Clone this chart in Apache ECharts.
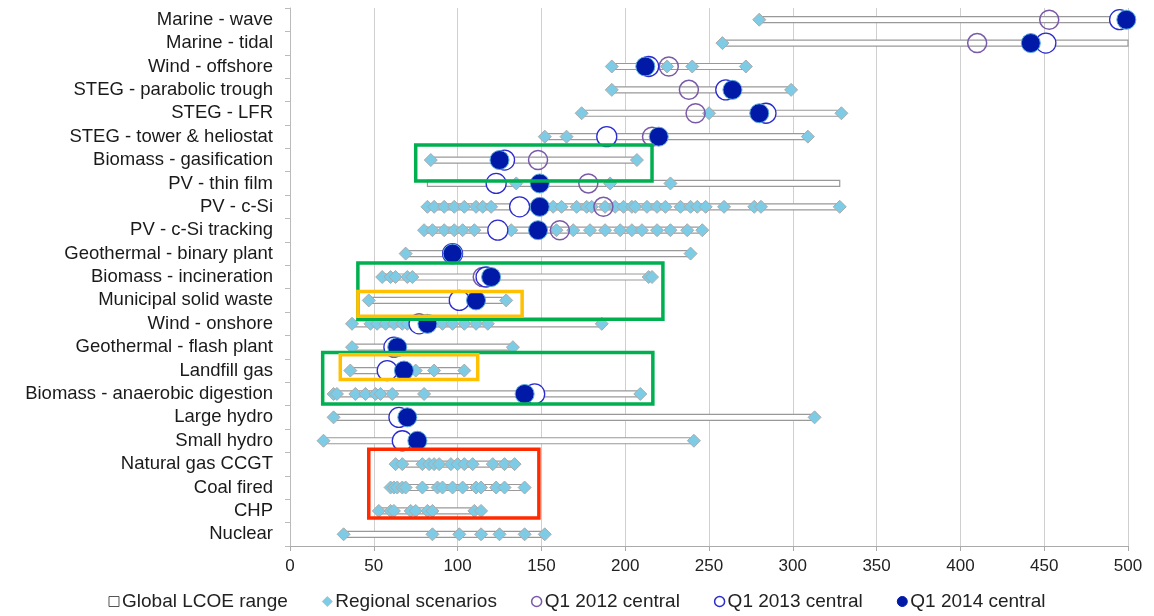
<!DOCTYPE html>
<html>
<head>
<meta charset="utf-8">
<script src="https://cdn.jsdelivr.net/npm/echarts@6/dist/echarts.min.js"></script>
<style>
  html, body { margin: 0; padding: 0; background: #fff; }
  #main { width: 1154px; height: 616px; }
</style>
</head>
<body>
<div id="main"></div>
<script>
var categories = ["Marine - wave", "Marine - tidal", "Wind - offshore", "STEG - parabolic trough", "STEG - LFR",
  "STEG - tower & heliostat", "Biomass - gasification", "PV - thin film", "PV - c-Si", "PV - c-Si tracking",
  "Geothermal - binary plant", "Biomass - incineration", "Municipal solid waste", "Wind - onshore",
  "Geothermal - flash plant", "Landfill gas", "Biomass - anaerobic digestion", "Large hydro", "Small hydro",
  "Natural gas CCGT", "Coal fired", "CHP", "Nuclear"];

// global LCOE range, min / max
var rangeMin = [280, 258, 192, 192, 174, 152, 84, 82, 82, 80, 69, 55, 47, 37, 37, 36, 26, 26, 20, 63, 60, 53, 32];
var rangeMax = [500, 500, 272, 299, 329, 309, 207, 328, 328, 246, 239, 216, 129, 186, 133, 104, 209, 313, 241, 134, 140, 114, 152];

// regional scenarios
var regional = [
  [280],
  [258],
  [192, 225, 240, 272],
  [192, 259, 299],
  [174, 250, 329],
  [152, 165, 309],
  [84, 207],
  [135, 191, 227],
  [82, 86, 92, 98, 104, 111, 115, 120, 157, 162, 171, 177, 180, 188, 194, 199, 204, 206, 213, 219, 224, 233, 239, 243, 248, 259, 277, 281, 328],
  [80, 85, 92, 98, 103, 110, 132, 159, 169, 179, 188, 197, 204, 210, 219, 227, 237, 246],
  [69, 239],
  [55, 60, 63, 70, 73, 214, 216],
  [47, 129],
  [37, 48, 52, 57, 62, 67, 70, 91, 97, 104, 111, 118, 186],
  [37, 133],
  [36, 75, 86, 104],
  [26, 28, 39, 45, 51, 54, 61, 80, 209],
  [26, 313],
  [20, 241],
  [63, 67, 79, 83, 86, 89, 96, 100, 104, 109, 121, 128, 134],
  [60, 62, 64, 67, 69, 79, 88, 91, 97, 103, 111, 114, 123, 128, 140],
  [53, 60, 62, 72, 75, 82, 85, 110, 114],
  [32, 85, 101, 114, 125, 140, 152]
];

var q2012 = [453, 410, 226, 238, 242, 216, 148, 178, 187, 161, null, 115, null, null, null, null, null, null, null, null, null, null, null];
var q2013 = [495, 451, 214, 260, 284, 189, 128, 123, 137, 124, 97, 117, 101, 77, 62, 58, 146, 65, 67, null, null, null, null];
var q2014 = [499, 442, 212, 264, 280, 220, 125, 149, 149, 148, 97, 120, 111, 82, 64, 68, 140, 70, 76, null, null, null, null];

// highlight boxes: x from, x to, first row, last row, top / bottom offset in rows
var boxes = [
  { value: [75, 216, 6, 6, -0.64, 0.9], color: '#00b050' },
  { value: [40.5, 222.5, 11, 12, -0.6, 0.81], color: '#00b050' },
  { value: [40.5, 138.5, 12, 12, -0.38, 0.68], color: '#ffc000' },
  { value: [19.5, 216.5, 15, 16, -0.77, 0.43], color: '#00b050' },
  { value: [30, 112, 15, 15, -0.68, 0.38], color: '#ffc000' },
  { value: [47, 148.5, 19, 21, -0.64, 0.3], color: '#ff2a00' }
];

var rangeData = [], regData = [], d12 = [], d13 = [], d14 = [];
for (var i = 0; i < categories.length; i++) {
  rangeData.push([i, rangeMin[i], rangeMax[i]]);
  for (var j = 0; j < regional[i].length; j++) regData.push([regional[i][j], i]);
  if (q2012[i] != null) d12.push([q2012[i], i]);
  if (q2013[i] != null) d13.push([q2013[i], i]);
  if (q2014[i] != null) d14.push([q2014[i], i]);
}

var myChart = echarts.init(document.getElementById('main'));
var option = {
  animation: false,
  grid: { left: 290, right: 26, top: 8, bottom: 70 },
  legend: {
    bottom: 0,
    left: 'center',
    itemWidth: 10,
    itemHeight: 10,
    itemGap: 34,
    textStyle: { fontFamily: 'Liberation Sans', fontSize: 19, color: '#222', padding: [0, 0, 0, -2] },
    data: [
      { name: 'Global LCOE range', icon: 'rect', itemStyle: { color: '#fff', borderColor: '#555', borderWidth: 1 } },
      { name: 'Regional scenarios', icon: 'diamond', itemStyle: { color: '#7ecbe6', borderColor: '#9cc', borderWidth: 1 } },
      { name: 'Q1 2012 central', icon: 'circle', itemStyle: { color: '#fff', borderColor: '#7a5aa8', borderWidth: 1.5 } },
      { name: 'Q1 2013 central', icon: 'circle', itemStyle: { color: '#fff', borderColor: '#2a2ad0', borderWidth: 1.5 } },
      { name: 'Q1 2014 central', icon: 'circle', itemStyle: { color: '#0019a6', borderColor: '#0019a6', borderWidth: 1 } }
    ]
  },
  xAxis: {
    type: 'value',
    min: 0,
    max: 500,
    interval: 50,
    axisLine: { show: true, lineStyle: { color: '#aaa' } },
    axisTick: { show: true, length: 5, lineStyle: { color: '#aaa' } },
    axisLabel: { fontFamily: 'Liberation Sans', fontSize: 17, color: '#222', margin: 12 },
    splitLine: { show: true, lineStyle: { color: '#cfcfcf' } }
  },
  yAxis: {
    type: 'category',
    inverse: true,
    data: categories,
    axisLine: { show: true, lineStyle: { color: '#bbb' } },
    axisTick: { show: true, length: 5, lineStyle: { color: '#bbb' } },
    axisLabel: { interval: 0, fontFamily: 'Liberation Sans', fontSize: 18.5, color: '#1a1a1a', margin: 17 },
    splitLine: { show: false }
  },
  series: [
    {
      name: 'Global LCOE range',
      type: 'custom',
      z: 1,
      encode: { x: [1, 2], y: 0 },
      renderItem: function (params, api) {
        var p0 = api.coord([api.value(1), api.value(0)]);
        var p1 = api.coord([api.value(2), api.value(0)]);
        return {
          type: 'rect',
          shape: { x: p0[0], y: p0[1] - 3, width: p1[0] - p0[0], height: 6 },
          style: { fill: '#fff', stroke: '#999', lineWidth: 1.2 }
        };
      },
      itemStyle: { color: '#fff', borderColor: '#555' },
      data: rangeData
    },
    {
      name: 'Regional scenarios',
      type: 'scatter',
      z: 2,
      symbol: 'diamond',
      symbolSize: 13,
      itemStyle: { color: '#7ecbe6', borderColor: '#aaa', borderWidth: 1, opacity: 1 },
      data: regData
    },
    {
      name: 'Q1 2012 central',
      type: 'scatter',
      z: 3,
      symbol: 'circle',
      symbolSize: 19,
      itemStyle: { color: 'rgba(255,255,255,0)', borderColor: '#7a5aa8', borderWidth: 1.5, opacity: 1 },
      data: d12
    },
    {
      name: 'Q1 2013 central',
      type: 'scatter',
      z: 4,
      symbol: 'circle',
      symbolSize: 20,
      itemStyle: { color: '#fff', borderColor: '#2a2ad0', borderWidth: 1.3, opacity: 1 },
      data: d13
    },
    {
      name: 'Q1 2014 central',
      type: 'scatter',
      z: 5,
      symbol: 'circle',
      symbolSize: 19,
      itemStyle: { color: '#0019a6', borderColor: '#5aa8dc', borderWidth: 1, opacity: 1 },
      data: d14
    },
    {
      name: 'boxes',
      type: 'custom',
      z: 6,
      silent: true,
      renderItem: function (params, api) {
        var row = api.size([0, 1])[1];
        var a = api.coord([api.value(0), api.value(2)]);
        var b = api.coord([api.value(1), api.value(3)]);
        var y0 = a[1] + api.value(4) * row;
        var y1 = b[1] + api.value(5) * row;
        return {
          type: 'rect',
          shape: { x: a[0], y: y0, width: b[0] - a[0], height: y1 - y0 },
          style: { fill: 'none', stroke: api.visual('color'), lineWidth: 3.5 }
        };
      },
      data: boxes.map(function (b) { return { value: b.value, itemStyle: { color: b.color } }; })
    }
  ]
};
myChart.setOption(option);
</script>
</body>
</html>
